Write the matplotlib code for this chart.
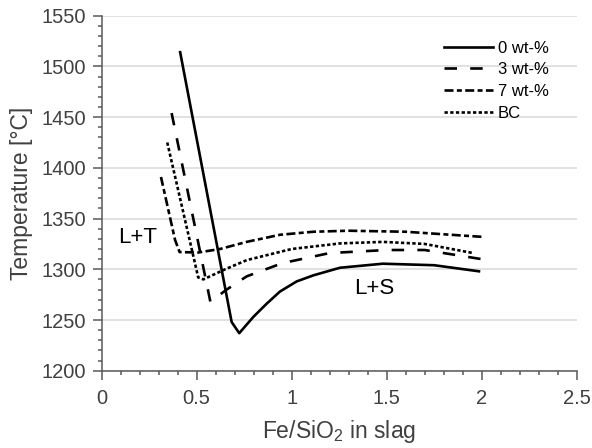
import matplotlib
matplotlib.use("Agg")
import matplotlib.pyplot as plt
from matplotlib.ticker import MultipleLocator

plt.rcParams['font.family'] = ['Liberation Sans', 'DejaVu Sans']
plt.rcParams['mathtext.default'] = 'regular'
plt.rcParams['lines.scale_dashes'] = False

# 0 wt-%
x0 = [0.413, 0.684, 0.724, 0.798, 0.868, 0.938, 1.026, 1.114, 1.254, 1.48, 1.75, 1.986]
t0 = [1514, 1248, 1237, 1253, 1266, 1278, 1288, 1294, 1301.5, 1305.5, 1304, 1298]
# 3 wt-%
x3 = [0.368, 0.572, 0.658, 0.763, 0.95, 1.2, 1.5, 1.7, 2.0]
t3 = [1454, 1268, 1280, 1293, 1306, 1316, 1319, 1319, 1310]
# 7 wt-%
x7 = [0.312, 0.386, 0.41, 0.507, 0.623, 0.763, 0.938, 1.114, 1.3, 1.6, 2.0]
t7 = [1391, 1329, 1317, 1316.5, 1320, 1327, 1334, 1337, 1338, 1337, 1332]
# BC
xbc = [0.345, 0.508, 0.535, 0.65, 0.763, 1.0, 1.255, 1.48, 1.7, 1.955]
tbc = [1425, 1292, 1290, 1300, 1309, 1320, 1325.5, 1327, 1325, 1316]

grey = '#595959'
txt = '#404040'

fig = plt.figure(figsize=(5.92, 4.48), dpi=100)
ax = fig.add_axes([0.1718, 0.1725, 0.8022, 0.7925])

lw = 1.9
ax.plot(x0, t0, color='black', lw=lw, label='0 wt-%')
ax.plot(x3, t3, color='black', lw=lw, linestyle=(0, (9, 9.5)), label='3 wt-%')
ax.plot(x7, t7, color='black', lw=lw, linestyle=(0, (6.5, 2.4, 3.6, 2.4)), label='7 wt-%')
ax.plot(xbc, tbc, color='black', lw=lw, linestyle=(0, (2.4, 1.7)), label='BC')

ax.set_xlim(0, 2.5)
ax.set_ylim(1200, 1550)
ax.xaxis.set_major_locator(MultipleLocator(0.5))
ax.xaxis.set_minor_locator(MultipleLocator(0.1))
ax.yaxis.set_major_locator(MultipleLocator(50))
ax.yaxis.set_minor_locator(MultipleLocator(10))
ax.set_xticks([0, 0.5, 1, 1.5, 2, 2.5], ['0', '0.5', '1', '1.5', '2', '2.5'])

ax.grid(axis='y', which='major', color='#d9d9d9', lw=1.1)
ax.set_axisbelow(True)
for s in ['top', 'right']:
    ax.spines[s].set_visible(False)
for s in ['left', 'bottom']:
    ax.spines[s].set_color(grey)
    ax.spines[s].set_linewidth(1.1)
ax.tick_params(which='major', direction='out', length=6.5, width=1.1, color=grey,
               labelsize=14.5, labelcolor=txt)
ax.tick_params(axis='x', which='major', pad=7)
ax.tick_params(axis='y', which='major', pad=5)
ax.tick_params(which='minor', direction='out', length=3.2, width=1.1, color=grey)

ax.set_xlabel('Fe/SiO$_2$ in slag', fontsize=16.5, color=txt, labelpad=7)
ax.set_ylabel('Temperature [°C]', fontsize=16.5, color=txt, labelpad=6)

ax.text(0.19, 1331, 'L+T', fontsize=16, color='black', ha='center', va='center')
ax.text(1.433, 1281.5, 'L+S', fontsize=16, color='black', ha='center', va='center')

ax.legend(loc='upper left', bbox_to_anchor=(0.689, 0.972), frameon=False, fontsize=12,
          handlelength=2.95, handletextpad=0.3, labelspacing=0.4)

fig.savefig('out.png', dpi=100)
